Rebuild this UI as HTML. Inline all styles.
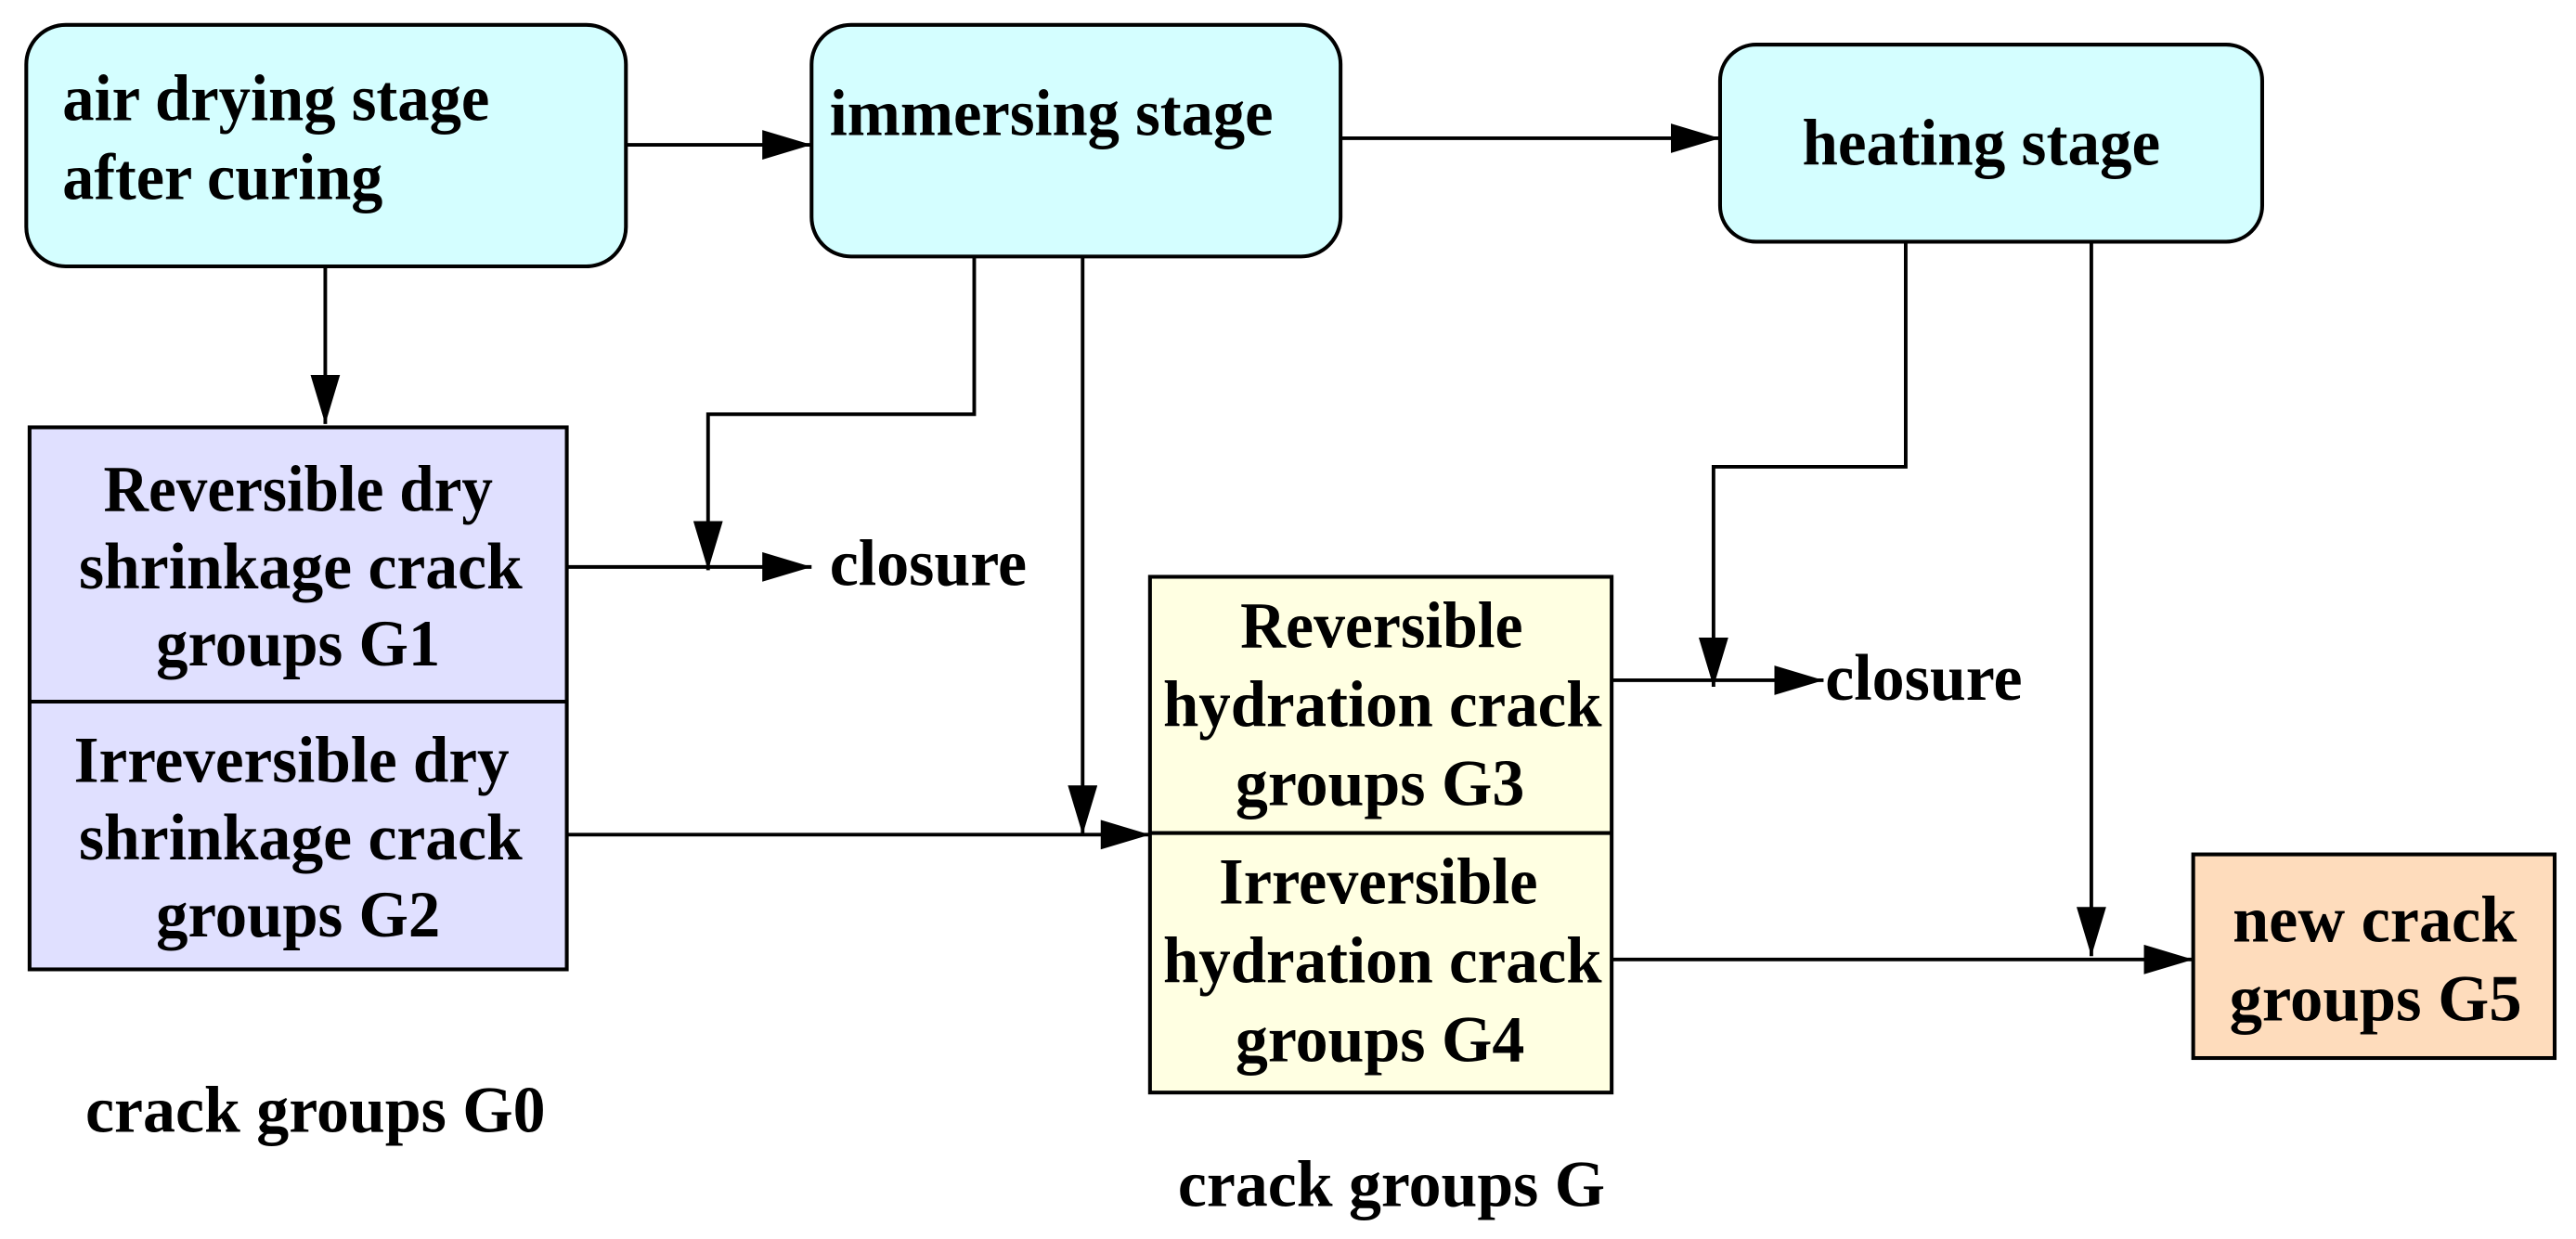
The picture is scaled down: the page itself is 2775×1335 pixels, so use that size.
<!DOCTYPE html>
<html><head><meta charset="utf-8"><style>
html,body{margin:0;padding:0;background:#fff;}
svg{display:block;}
text{font-family:"Liberation Serif",serif;font-weight:bold;font-size:40px;fill:#000;}
</style></head><body>
<svg width="2775" height="1335" viewBox="0 0 1568 754" xmlns="http://www.w3.org/2000/svg">
<defs>
<marker id="a" markerWidth="32" markerHeight="20" refX="30" refY="9" orient="auto" markerUnits="userSpaceOnUse">
<path d="M0,0 L30,9 L0,18 Z" fill="#000"/>
</marker>
</defs>
<g stroke="#000" stroke-width="2.3">
<rect x="16" y="15" width="365" height="147" rx="24" fill="#d4feff"/>
<rect x="494" y="15" width="322" height="141" rx="24" fill="#d4feff"/>
<rect x="1047" y="27" width="330" height="120" rx="22" fill="#d4feff"/>
<rect x="18" y="260" width="327" height="330" fill="#e0e0ff"/>
<line x1="18" y1="427" x2="345" y2="427"/>
<rect x="700" y="351" width="281" height="314" fill="#ffffe2"/>
<line x1="700" y1="507" x2="981" y2="507"/>
<rect x="1335" y="520" width="220" height="124" fill="#fedcbc"/>
</g>
<g stroke="#000" stroke-width="2.2" fill="none">
<line x1="381" y1="88" x2="494" y2="88" marker-end="url(#a)"/>
<line x1="816" y1="84" x2="1047" y2="84" marker-end="url(#a)"/>
<line x1="198" y1="162" x2="198" y2="258" marker-end="url(#a)"/>
<line x1="345" y1="345" x2="494" y2="345" marker-end="url(#a)"/>
<polyline points="593,156 593,252 431,252 431,347" marker-end="url(#a)"/>
<line x1="659" y1="156" x2="659" y2="508" marker-end="url(#a)"/>
<line x1="345" y1="508" x2="700" y2="508" marker-end="url(#a)"/>
<polyline points="1160,147 1160,284 1043,284 1043,418" marker-end="url(#a)"/>
<line x1="981" y1="414" x2="1110" y2="414" marker-end="url(#a)"/>
<line x1="1273" y1="147" x2="1273" y2="582" marker-end="url(#a)"/>
<line x1="981" y1="584" x2="1335" y2="584" marker-end="url(#a)"/>
</g>
<text x="38" y="73" textLength="260" lengthAdjust="spacingAndGlyphs">air drying stage</text>
<text x="38" y="121" textLength="195" lengthAdjust="spacingAndGlyphs">after curing</text>
<text x="505" y="82" textLength="270" lengthAdjust="spacingAndGlyphs">immersing stage</text>
<text x="1097" y="100" textLength="218" lengthAdjust="spacingAndGlyphs">heating stage</text>
<text x="63" y="311" textLength="237" lengthAdjust="spacingAndGlyphs">Reversible dry</text>
<text x="48" y="358" textLength="270" lengthAdjust="spacingAndGlyphs">shrinkage crack</text>
<text x="95" y="405" textLength="173" lengthAdjust="spacingAndGlyphs">groups G1</text>
<text x="45" y="476" textLength="265" lengthAdjust="spacingAndGlyphs">Irreversible dry</text>
<text x="48" y="523" textLength="270" lengthAdjust="spacingAndGlyphs">shrinkage crack</text>
<text x="95" y="570" textLength="173" lengthAdjust="spacingAndGlyphs">groups G2</text>
<text x="505" y="356" textLength="120" lengthAdjust="spacingAndGlyphs">closure</text>
<text x="1111" y="426" textLength="120" lengthAdjust="spacingAndGlyphs">closure</text>
<text x="755" y="394" textLength="172" lengthAdjust="spacingAndGlyphs">Reversible</text>
<text x="708" y="442" textLength="267" lengthAdjust="spacingAndGlyphs">hydration crack</text>
<text x="752" y="490" textLength="176" lengthAdjust="spacingAndGlyphs">groups G3</text>
<text x="742" y="550" textLength="194" lengthAdjust="spacingAndGlyphs">Irreversible</text>
<text x="708" y="598" textLength="267" lengthAdjust="spacingAndGlyphs">hydration crack</text>
<text x="752" y="646" textLength="176" lengthAdjust="spacingAndGlyphs">groups G4</text>
<text x="1359" y="573" textLength="173" lengthAdjust="spacingAndGlyphs">new crack</text>
<text x="1357" y="621" textLength="178" lengthAdjust="spacingAndGlyphs">groups G5</text>
<text x="52" y="689" textLength="280" lengthAdjust="spacingAndGlyphs">crack groups G0</text>
<text x="717" y="734" textLength="260" lengthAdjust="spacingAndGlyphs">crack groups G</text>
</svg>
</body></html>
